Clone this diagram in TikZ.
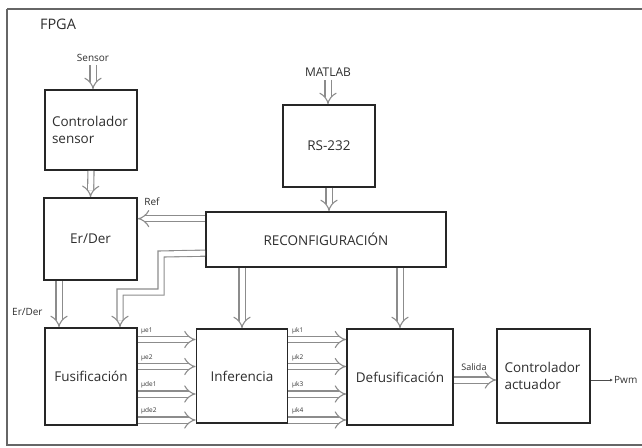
\documentclass[tikz,border=0pt]{standalone}
\usepackage{fontspec}
\setmainfont{Open Sans}
\usetikzlibrary{arrows.meta,calc}
\begin{document}
\begin{tikzpicture}[x=1pt,y=-1pt,
  blk/.style={draw=black!85, line width=1.7pt, inner sep=0pt, text=black!82,
              font=\fontsize{13.5}{17}\selectfont},
  dbl/.style={draw=black!45, line width=1.1pt, double=white, double distance=5pt, -{Implies}},
  lbl/.style={text=black!82, inner sep=0pt},
  mu/.style={text=black!80, inner sep=0pt, font=\fontsize{6.5}{6.5}\selectfont, anchor=south west},
]
\useasboundingbox (0,0) rectangle (642,447);
% frame
\draw[draw=black!60, line width=1.8pt] (7,9) -- (660,9) (7,9) -- (7,445) -- (660,445);
\node[lbl, font=\fontsize{14.5}{14.5}\selectfont] (fpga) at (58,24) {FPGA};

% blocks
\node[blk, minimum width=92, minimum height=80, text width=78, align=left] (cs) at (91,130) {Controlador\\sensor};
\node[blk, minimum width=93, minimum height=82] (ed) at (90.5,239) {Er/Der};
\node[blk, minimum width=92, minimum height=97] (fu) at (91,376.5) {Fusificación};
\node[blk, minimum width=91, minimum height=94] (inf) at (242,376) {Inferencia};
\node[blk, minimum width=106, minimum height=96] (def) at (400,377) {Defusificación};
\node[blk, minimum width=93, minimum height=94, text width=78, align=left] (ca) at (543.5,376) {Controlador\\actuador};
\node[blk, minimum width=92, minimum height=82] (rs) at (329,146) {RS-232};
\node[blk, minimum width=240, minimum height=55] (rc) at (326,239.5) {RECONFIGURACIÓN};

% inputs
\node[lbl, font=\fontsize{10}{10}\selectfont] (sen) at (93,58) {Sensor};
\node[lbl, font=\fontsize{12}{12}\selectfont] (mat) at (328,72) {MATLAB};
\draw[dbl] ([yshift=-3pt]sen.south) -- (sen.south |- cs.north);
\draw[dbl] ([yshift=-3pt]mat.south) -- (mat.south |- rs.north);

% vertical links
\draw[dbl] (cs.south) -- (ed.north);
\draw[dbl] (rs.south) -- (rs.south |- rc.north);
\draw[dbl] (rc.south -| inf.north) -- (inf.north);
\draw[dbl] (rc.south -| def.north) -- (def.north);
\coordinate (edx) at ([xshift=-31.5pt]ed.south);
\draw[dbl] (edx) -- (edx |- fu.north);
\node[lbl, font=\fontsize{10}{10}\selectfont, anchor=west] (edl) at (12,312) {Er/Der};

% Ref link
\draw[dbl] ([yshift=-7.5pt]rc.north west) -- ([yshift=-7.5pt]rc.north west -| ed.east);
\node[lbl, font=\fontsize{10}{10}\selectfont] (ref) at (152,202) {Ref};

% bent link to Fusificacion
\coordinate (b0) at ([yshift=-42pt]rc.north west);
\coordinate (b1) at (161,254);
\coordinate (b2) at (161,292);
\coordinate (b3) at (120,292);
\draw[dbl] (b0) -- (b1) -- (b2) -- (b3) -- (b3 |- fu.north);

% Fusificacion -> Inferencia -> Defusificacion
\foreach \yy in {339.5,366.5,394,420}{
  \draw[dbl] (fu.east |- 0,\yy) -- (inf.west |- 0,\yy);
  \draw[dbl] (inf.east |- 0,\yy) -- (def.west |- 0,\yy);
}
\node[mu] (m1) at (141,334) {μe1};
\node[mu] (m2) at (141,361) {μe2};
\node[mu] (m3) at (141,388.5) {μde1};
\node[mu] (m4) at (141,414.5) {μde2};
\node[mu] (k1) at (292,334) {μk1};
\node[mu] (k2) at (292,361) {μk2};
\node[mu] (k3) at (292,388.5) {μk3};
\node[mu] (k4) at (292,414.5) {μk4};

% Salida
\draw[dbl] (def.east |- 0,380) -- (ca.west |- 0,380);
\node[lbl, font=\fontsize{9}{9}\selectfont] (sal) at (474,367) {Salida};

% Pwm
\coordinate (pw) at (613,380);
\draw[draw=black!70, line width=1pt, -{Latex[length=3pt,width=3pt]}] (ca.east |- pw) -- (pw);
\node[lbl, font=\fontsize{10}{10}\selectfont, anchor=west] (pwm) at (614,380) {Pwm};
\end{tikzpicture}
\end{document}
